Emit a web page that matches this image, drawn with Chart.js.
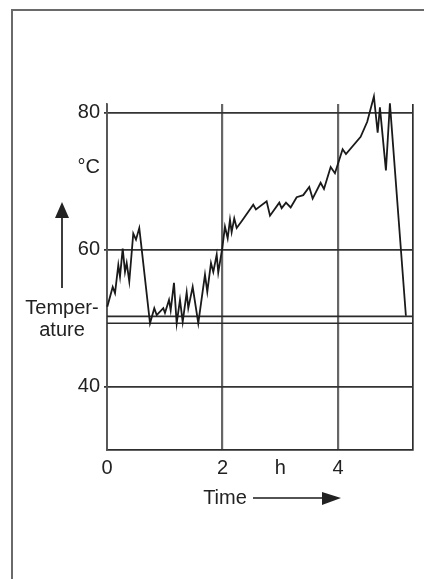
<!DOCTYPE html>
<html>
<head>
<meta charset="utf-8">
<script src="https://cdn.jsdelivr.net/npm/chart.js@4.4.1/dist/chart.umd.min.js"></script>
<style>
  html, body { margin: 0; padding: 0; background: #fff; }
  #wrap { position: relative; width: 424px; height: 579px; overflow: hidden; }
  #frame { position: absolute; left: 11px; top: 9px; width: 600px; height: 700px;
           border-left: 2px solid #6a6a6a; border-top: 2px solid #6a6a6a; }
  canvas { position: absolute; left: 0; top: 0; }
</style>
</head>
<body>
<div id="wrap">
  <div id="frame"></div>
  <canvas id="c" width="424" height="579"></canvas>
</div>
<script>
// ---- data ----
const timeH = [0.005, 0.099, 0.139, 0.196, 0.225, 0.272, 0.312, 0.341, 0.386, 0.455, 0.502, 0.559, 0.589,
  0.745, 0.819, 0.861, 0.975, 1.004, 1.074, 1.103, 1.160, 1.207, 1.264, 1.311, 1.380, 1.408, 1.484, 1.581,
  1.697, 1.737, 1.801, 1.841, 1.900, 1.927, 1.997, 2.043, 2.090, 2.130, 2.159, 2.204, 2.246, 2.332, 2.533,
  2.580, 2.765, 2.823, 2.984, 3.025, 3.100, 3.181, 3.285, 3.399, 3.503, 3.562, 3.700, 3.758, 3.874, 3.948,
  4.081, 4.139, 4.393, 4.507, 4.623, 4.688, 4.727, 4.831, 4.900, 5.177];
const tempC = [51.7, 54.6, 53.7, 57.8, 56.1, 60.2, 56.8, 58.1, 55.4, 62.4, 61.5, 63.2, 61.0,
  49.3, 51.5, 50.5, 51.5, 50.8, 52.7, 51.2, 55.2, 49.3, 52.7, 49.5, 53.8, 51.5, 54.6, 49.3,
  56.4, 53.9, 58.1, 56.8, 59.3, 56.7, 60.3, 63.4, 61.7, 64.4, 62.6, 64.6, 63.2, 64.2, 66.6,
  65.9, 67.1, 65.0, 66.9, 66.1, 66.9, 66.2, 67.7, 68.0, 69.2, 67.5, 69.8, 68.9, 72.1, 71.2,
  74.7, 74.0, 76.5, 78.7, 82.4, 77.1, 80.8, 71.6, 81.4, 50.4];
const refLines = [50.3, 49.3];
const xTicks = [0, 2, 3, 4, 5.3];
const xTickLabels = ['0', '2', 'h', '4', ''];
const yTicks = [40, 60, 72, 80];
const yTickLabels = ['40', '60', '°C', '80'];
const xMin = 0, xMax = 5.3, yMin = 30.8, yMax = 81.3;
const yAxisTitle = ['Temper-', 'ature'];
const xAxisTitle = 'Time';

const FONT = '"Liberation Sans", Arial, sans-serif';
const TXT = '#222';

const datasets = [{
  data: timeH.map((t, i) => ({ x: t, y: tempC[i] })),
  borderColor: '#1a1a1a', borderWidth: 1.8, pointRadius: 0, tension: 0, clip: false, order: 0
}];
refLines.forEach(v => datasets.push({
  data: [{ x: xMin, y: v }, { x: xMax, y: v }],
  borderColor: '#2a2a2a', borderWidth: 1.7, pointRadius: 0, order: 1
}));

const annot = {
  id: 'annot',
  afterDraw(chart) {
    const ctx = chart.ctx;
    ctx.save();
    ctx.fillStyle = TXT; ctx.strokeStyle = '#1a1a1a';
    ctx.font = '20px ' + FONT;
    ctx.textAlign = 'center'; ctx.textBaseline = 'middle';
    // temperature arrow
    ctx.lineWidth = 1.7;
    ctx.beginPath(); ctx.moveTo(62, 288); ctx.lineTo(62, 214); ctx.stroke();
    ctx.beginPath(); ctx.moveTo(62, 202); ctx.lineTo(55, 218); ctx.lineTo(69, 218); ctx.closePath(); ctx.fill();
    ctx.fillText(yAxisTitle[0], 62, 308);
    ctx.fillText(yAxisTitle[1], 62, 330);
    // time label + arrow
    ctx.fillText(xAxisTitle, 225, 498);
    ctx.beginPath(); ctx.moveTo(253, 498); ctx.lineTo(326, 498); ctx.stroke();
    ctx.beginPath(); ctx.moveTo(341, 498); ctx.lineTo(322, 492); ctx.lineTo(322, 505); ctx.closePath(); ctx.fill();
    ctx.restore();
  }
};

new Chart(document.getElementById('c'), {
  type: 'line',
  data: { datasets },
  options: {
    responsive: false, animation: false, devicePixelRatio: 1,
    layout: { padding: { left: 0, top: 104, right: 11, bottom: 0 } },
    plugins: { legend: { display: false }, tooltip: { enabled: false } },
    scales: {
      x: {
        type: 'linear', min: xMin, max: xMax,
        afterBuildTicks: s => { s.ticks = xTicks.map(v => ({ value: v })); },
        afterFit: s => { s.height = 129; },
        ticks: {
          autoSkip: false, maxRotation: 0, padding: 6,
          font: { family: FONT, size: 20 }, color: TXT,
          callback: v => { const i = xTicks.indexOf(v); return i >= 0 ? xTickLabels[i] : ''; }
        },
        grid: {
          drawTicks: false,
          color: c => (c.tick && c.tick.value === 3) ? 'rgba(0,0,0,0)' :
                      (c.tick && (c.tick.value === 2 || c.tick.value === 4)) ? '#666' : '#2e2e2e',
          lineWidth: c => (c.tick && (c.tick.value === 2 || c.tick.value === 4)) ? 2.2 : 1.7
        },
        border: { display: true, color: '#2e2e2e', width: 1.7 }
      },
      y: {
        type: 'linear', min: yMin, max: yMax,
        afterBuildTicks: s => { s.ticks = yTicks.map(v => ({ value: v })); },
        afterFit: s => { s.width = 107; },
        ticks: {
          padding: 4, font: { family: FONT, size: 20 }, color: TXT,
          callback: v => { const i = yTicks.indexOf(v); return i >= 0 ? yTickLabels[i] : ''; }
        },
        grid: {
          tickLength: 3,
          color: c => (c.tick && c.tick.value === 72) ? 'rgba(0,0,0,0)' : '#333',
          lineWidth: 1.7
        },
        border: { display: true, color: '#555', width: 1.7 }
      }
    }
  },
  plugins: [annot]
});
</script>
</body>
</html>
